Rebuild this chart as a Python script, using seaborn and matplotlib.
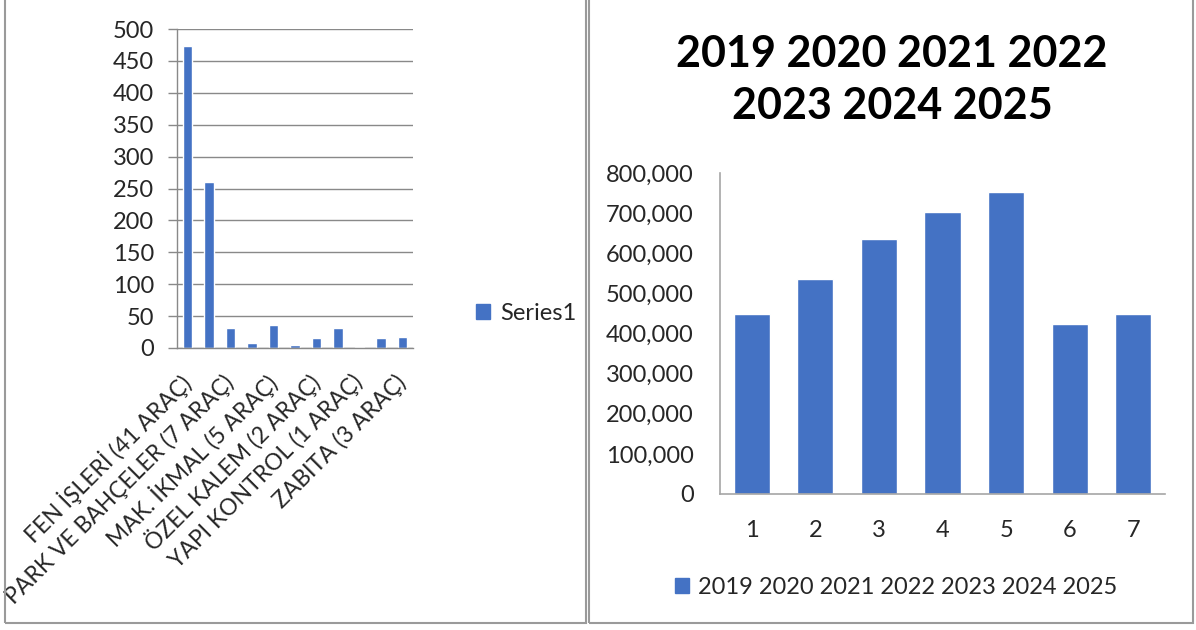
import matplotlib
matplotlib.use("Agg")
import matplotlib.pyplot as plt
from matplotlib.patches import Patch, Rectangle
from matplotlib.ticker import FuncFormatter, MultipleLocator
import seaborn as sns
import pandas as pd

# left chart: vehicle counts per department (only every other label is shown)
dept_labels = ["FEN İŞLERİ (41 ARAÇ)", "PARK VE BAHÇELER (7 ARAÇ)", "MAK. İKMAL (5 ARAÇ)",
               "ÖZEL KALEM (2 ARAÇ)", "YAPI KONTROL (1 ARAÇ)", "ZABITA (3 ARAÇ)"]
dept_values = [473, 260, 31, 8, 36, 4, 15, 32, 2, 15, 17]
left_series = "Series1"

# right chart: yearly totals
year_ticks = ["1", "2", "3", "4", "5", "6", "7"]
year_values = [449000, 536000, 635000, 704000, 753000, 423000, 449000]
right_series = "2019 2020 2021 2022 2023 2024 2025"

BLUE = "#4472C4"
GRID = "#898989"
AXIS = "#A6A6A6"

sns.set_theme(style="white")
plt.rcParams["font.family"] = ["Lato", "DejaVu Sans"]

W, H = 1196, 630
fig = plt.figure(figsize=(W / 100, H / 100), dpi=100)

def fx(px):
    return px / W

def fy(py):
    return 1 - py / H

# panel borders
for x0, x1 in [(5, 586), (589, 1193)]:
    fig.patches.append(Rectangle((fx(x0), fy(623)), fx(x1 - x0), fy(-10) - fy(623),
                                 transform=fig.transFigure, fill=False,
                                 edgecolor="#9a9a9a", lw=1.5))

# ---- left chart ----
ax1 = fig.add_axes([fx(177), fy(348), fx(413 - 177), (348 - 29) / H])
df1 = pd.DataFrame({"pos": list(range(len(dept_values))), "value": dept_values})
sns.barplot(data=df1, x="pos", y="value", color=BLUE, saturation=1, width=0.44, ax=ax1)
ax1.set_xlim(-0.5, len(dept_values) - 0.5)
ax1.set_ylim(0, 500)
ax1.yaxis.set_major_locator(MultipleLocator(50))
ax1.grid(axis="y", color=GRID, lw=1)
ax1.set_axisbelow(True)
for s in ["top", "right"]:
    ax1.spines[s].set_visible(False)
for s in ["left", "bottom"]:
    ax1.spines[s].set_color(GRID)
    ax1.spines[s].set_linewidth(1)
ax1.set_xticks(range(0, len(dept_values), 2))
ax1.set_xticks([i - 0.5 for i in range(len(dept_values) + 1)], minor=True)
ax1.set_xticklabels(dept_labels, rotation=45, ha="right", va="center",
                    rotation_mode="anchor", fontsize=16.5)
ax1.tick_params(axis="x", which="major", length=0, pad=22)
ax1.tick_params(axis="x", which="minor", length=6, width=1, color=GRID, direction="out")
ax1.tick_params(axis="y", length=6.5, width=1, color=GRID, direction="out",
                labelsize=17, pad=10, left=True)
ax1.set_xlabel("")
ax1.set_ylabel("")
fig.legend(handles=[Patch(color=BLUE, label=left_series)], loc="center left",
           bbox_to_anchor=(fx(455), fy(313)), frameon=False, fontsize=17,
           handlelength=0.6, handleheight=0.6, handletextpad=0.4)

# ---- right chart ----
ax2 = fig.add_axes([fx(720), fy(494), fx(1165 - 720), (494 - 173) / H])
df2 = pd.DataFrame({"year": year_ticks, "value": year_values})
sns.barplot(data=df2, x="year", y="value", color=BLUE, saturation=1, width=0.57, ax=ax2)
ax2.set_ylim(0, 800000)
ax2.yaxis.set_major_locator(MultipleLocator(100000))
ax2.yaxis.set_major_formatter(FuncFormatter(lambda v, p: f"{v:,.0f}"))
for s in ["top", "right"]:
    ax2.spines[s].set_visible(False)
for s in ["left", "bottom"]:
    ax2.spines[s].set_color(AXIS)
    ax2.spines[s].set_linewidth(1.2)
ax2.tick_params(axis="both", length=0, labelsize=17)
ax2.tick_params(axis="y", pad=19)
ax2.tick_params(axis="x", pad=19)
ax2.set_xlabel("")
ax2.set_ylabel("")

fig.text(fx(892), fy(80), "2019 2020 2021 2022\n2023 2024 2025", ha="center", va="center",
         fontsize=31, fontweight="bold", linespacing=1.35, color="black")
fig.legend(handles=[Patch(color=BLUE, label=right_series)], loc="center",
           bbox_to_anchor=(fx(896), fy(587)), frameon=False, fontsize=17,
           handlelength=0.6, handleheight=0.6, handletextpad=0.4)

fig.savefig("out.png", dpi=100)
